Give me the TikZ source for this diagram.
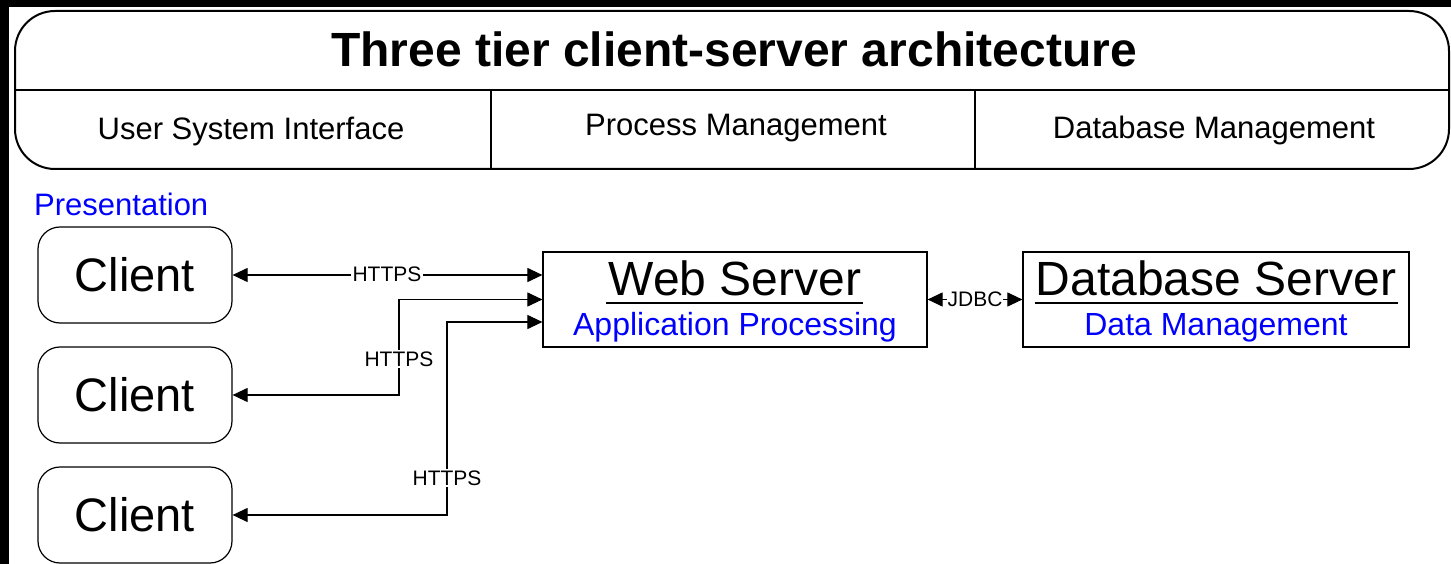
\documentclass[tikz,border=0pt]{standalone}
\usepackage{fontspec}
\setmainfont{Liberation Sans}
\usetikzlibrary{arrows.meta,calc}

\newcommand{\fs}[1]{\fontsize{#1}{#1}\selectfont}

\begin{document}
\begin{tikzpicture}[x=1pt,y=-1pt,
  frame/.style={line width=2pt},
  clientbox/.style={draw, line width=1.2pt, rounded corners=22pt,
    minimum width=194pt, minimum height=96pt, inner sep=0pt, font=\fs{47}},
  serverbox/.style={draw, line width=1.2pt, minimum height=95pt, inner sep=0pt},
  servertitle/.style={anchor=base, inner sep=0pt, font=\fs{48}},
  serverrole/.style={anchor=base, inner sep=0pt, text=blue, font=\fs{32}},
  tierlabel/.style={anchor=base, inner sep=0pt, font=\fs{31}},
  tip/.tip={Triangle[length=15pt,width=14pt]},
  link/.style={line width=1.1pt, tip-tip},
  linklabel/.style={fill=white, inner sep=1.5pt, font=\fs{21}}
]
\useasboundingbox (0,0) rectangle (1451,564);
\fill[white] (0,0) rectangle (1451,564);

% dark edges along the left and the top
\fill[black] (0,0) rectangle (9,564);
\fill[black] (0,0) rectangle (1451,7);

% heading panel
\draw[frame, rounded corners=40pt] (15,11) rectangle (1449,169);
\draw[frame] (15,90) -- (1449,90);
\draw[frame] (491,90) -- (491,169);
\draw[frame] (975,90) -- (975,169);
\node[anchor=base, inner sep=0pt, font=\bfseries\fs{48}] (title) at (734,67)
  {Three tier client-server architecture};
\node[tierlabel] (tier1) at (251,140) {User System Interface};
\node[tierlabel] (tier2) at (736,136) {Process Management};
\node[tierlabel] (tier3) at (1214,139) {Database Management};

% presentation tier
\node[anchor=base west, inner sep=0pt, text=blue, font=\fs{31}] (pres) at (34,215) {Presentation};
\node[clientbox] (c1) at (135,275) {Client};
\node[clientbox] (c2) at (135,395) {Client};
\node[clientbox] (c3) at (135,515) {Client};

% application tier
\node[serverbox, minimum width=384pt] (web) at (735,299.5) {};
\node[servertitle] (webtitle) at (735,295) {Web Server};
\draw[line width=1.6pt] (606,303) -- (863,303);
\node[serverrole] (webrole) at (735,335) {Application Processing};

% data tier
\node[serverbox, minimum width=386pt] (db) at (1216,299.5) {};
\node[servertitle] (dbtitle) at (1216,295) {Database Server};
\draw[line width=1.6pt] (1035,303) -- (1398,303);
\node[serverrole] (dbrole) at (1216,335) {Data Management};

% connections
\draw[link] (c1.east) -- (c1.east -| web.west);
\node[linklabel] (h1) at (387,274) {HTTPS};

\draw[link] (c2.east) -- (399,395) -- (399,299.5) -- (web.west);
\node[linklabel] (h2) at (399,359) {HTTPS};

\draw[link] (c3.east) -- (447,515) -- (447,322) -- ($(web.west)+(0,22.5)$);
\node[linklabel] (h3) at (447,478) {HTTPS};

\draw[link] (web.east) -- (db.west);
\node[linklabel, inner sep=1pt] (jdbc) at (975,299.5) {JDBC};
\end{tikzpicture}
\end{document}
